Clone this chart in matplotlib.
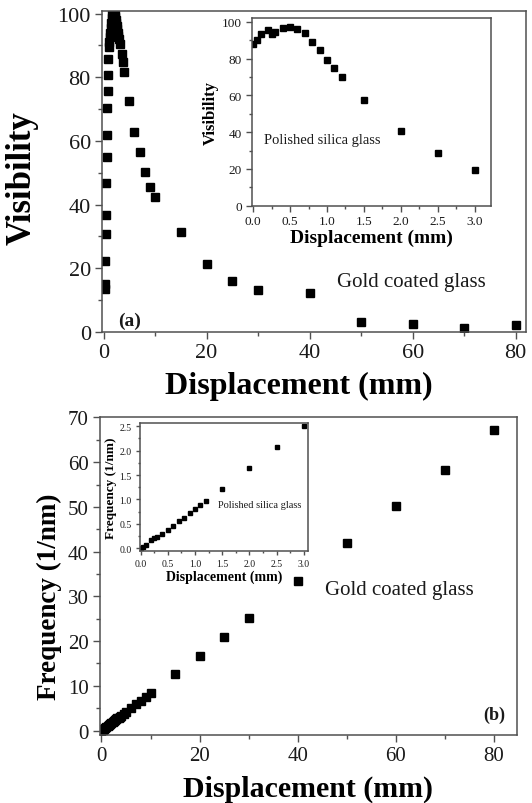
import matplotlib
matplotlib.use("Agg")
import matplotlib.pyplot as plt
from matplotlib.ticker import MultipleLocator, FormatStrFormatter

# (a) gold coated glass, visibility vs displacement
gold_disp = [0.2, 0.25, 0.3, 0.4, 0.45, 0.5, 0.6, 0.7, 0.75, 0.8, 0.9, 0.95, 1.0,
             1.1, 1.2, 1.3, 1.4, 1.5, 1.6, 1.7, 1.8, 1.9, 2.0, 2.1, 2.2, 2.3, 2.4,
             2.5, 2.6, 2.7, 2.8, 2.9, 3.0, 3.2, 3.5, 3.75, 4.0,
             5, 6, 7, 8, 9, 10, 15, 20, 25, 30, 40, 50, 60, 70, 80]
gold_vis = [13.5, 15.0, 22.4, 30.8, 36.7, 46.7, 55.0, 61.9, 70.2, 75.8, 80.7, 85.7, 89.5,
            91.0, 92.5, 94.0, 95.5, 97.0, 98.5, 100.0, 101.0, 101.0, 101.0, 100.5, 100.0, 99.0, 98.0,
            97.0, 96.0, 95.0, 94.0, 93.0, 92.0, 90.4, 87.3, 84.7, 81.7,
            72.4, 62.7, 56.4, 50.1, 45.4, 42.3, 31.3, 21.3, 16.1, 13.2, 12.1, 3.0, 2.5, 1.3, 2.2]

# (a) inset, polished silica glass
silica_disp = [0.0, 0.05, 0.1, 0.2, 0.25, 0.3, 0.4, 0.5, 0.6, 0.7, 0.8, 0.9, 1.0, 1.1, 1.2,
               1.5, 2.0, 2.5, 3.0]
silica_vis = [87.9, 90.2, 93.3, 95.5, 93.3, 94.8, 96.9, 97.3, 96.4, 94.2, 89.3, 84.6, 79.3,
              75.2, 70.3, 57.4, 40.4, 28.6, 19.2]

# (b) gold coated glass, frequency vs displacement
gold_f_disp = [0.0, 0.25, 0.5, 0.75, 1.0, 1.25, 1.5, 1.75, 2.0, 2.25, 2.5, 2.75, 3.0, 3.25,
               3.5, 3.75, 4.0, 4.5, 5, 6, 7, 8, 9, 10, 15, 20, 25, 30, 40, 50, 60, 70, 80]
gold_freq = [0.0, 0.2, 0.4, 0.6, 0.8, 1.0, 1.25, 1.45, 1.65, 1.85, 2.1, 2.3, 2.5, 2.7,
             2.9, 3.1, 3.35, 3.75, 4.2, 5.0, 5.9, 6.7, 7.6, 8.4, 12.6, 16.7, 21.0, 25.1,
             33.4, 41.9, 50.3, 58.3, 67.2]

# (b) inset, polished silica glass
silica_freq = [0.0, 0.02, 0.06, 0.17, 0.2, 0.24, 0.29, 0.38, 0.46, 0.55, 0.63, 0.72, 0.8,
               0.88, 0.96, 1.21, 1.65, 2.07, 2.5]

plt.rcParams['font.family'] = ['Liberation Serif', 'DejaVu Serif']
plt.rcParams['text.color'] = '#1a1a1a'
spine_col = '#505050'


def style(ax, size, ticklen=5):
    for s in ax.spines.values():
        s.set_color(spine_col)
        s.set_linewidth(1.1)
    ax.tick_params(which='both', direction='out', top=False, right=False,
                   color=spine_col, labelcolor='#1a1a1a', width=1)
    ax.tick_params(which='major', length=ticklen, labelsize=size, pad=3)
    ax.tick_params(which='minor', length=ticklen * 0.6)


fig = plt.figure(figsize=(5.32, 8.04), dpi=100)

# ---- panel (a)
ax1 = fig.add_axes([0.1917, 0.5858, 0.797, 0.3993])
ax1.plot(gold_disp, gold_vis, 's', color='black', markersize=6.3)
ax1.set_xlim(-0.3, 82)
ax1.set_ylim(0, 100.8)
ax1.xaxis.set_major_locator(MultipleLocator(20))
ax1.xaxis.set_minor_locator(MultipleLocator(10))
ax1.yaxis.set_major_locator(MultipleLocator(20))
ax1.yaxis.set_minor_locator(MultipleLocator(10))
style(ax1, 16)
ax1.set_xlabel("Displacement (mm)", fontsize=23, fontweight='bold')
ax1.set_ylabel("Visibility", fontsize=25, fontweight='bold')
ax1.xaxis.set_label_coords(0.4634, -0.12)
ax1.yaxis.set_label_coords(-0.15, 0.483)
ax1.text(0.729, 0.156, "Gold coated glass", transform=ax1.transAxes,
         fontsize=15, ha='center', va='center')
ax1.text(0.064, 0.037, "(a)", transform=ax1.transAxes,
         fontsize=14, fontweight='bold', ha='center', va='center')

ins1 = fig.add_axes([0.4731, 0.7429, 0.4498, 0.2331])
ins1.plot(silica_disp, silica_vis, 's', color='black', markersize=3.8)
ins1.set_xlim(-0.02, 3.22)
ins1.set_ylim(0, 102)
ins1.xaxis.set_major_locator(MultipleLocator(0.5))
ins1.xaxis.set_minor_locator(MultipleLocator(0.25))
ins1.yaxis.set_major_locator(MultipleLocator(20))
ins1.yaxis.set_minor_locator(MultipleLocator(10))
style(ins1, 9.5, ticklen=4)
ins1.xaxis.set_major_formatter(FormatStrFormatter('%.1f'))
ins1.set_xlabel("Displacement (mm)", fontsize=14, fontweight='bold', labelpad=1)
ins1.set_ylabel("Visibility", fontsize=12, fontweight='bold', labelpad=2)
ins1.text(0.295, 0.351, "Polished silica glass", transform=ins1.transAxes,
          fontsize=10.5, ha='center', va='center')

# ---- panel (b)
ax2 = fig.add_axes([0.188, 0.0846, 0.7838, 0.3955])
ax2.plot(gold_f_disp, gold_freq, 's', color='black', markersize=5.5)
ax2.set_xlim(-0.3, 84.7)
ax2.set_ylim(-1, 70.1)
ax2.xaxis.set_major_locator(MultipleLocator(20))
ax2.xaxis.set_minor_locator(MultipleLocator(10))
ax2.yaxis.set_major_locator(MultipleLocator(10))
ax2.yaxis.set_minor_locator(MultipleLocator(5))
style(ax2, 15)
ax2.set_xlabel("Displacement (mm)", fontsize=21.5, fontweight='bold')
ax2.set_ylabel("Frequency (1/nm)", fontsize=19.5, fontweight='bold')
ax2.xaxis.set_label_coords(0.499, -0.124)
ax2.yaxis.set_label_coords(-0.09, 0.437)
ax2.text(0.719, 0.459, "Gold coated glass", transform=ax2.transAxes,
         fontsize=15, ha='center', va='center')
ax2.text(0.945, 0.066, "(b)", transform=ax2.transAxes,
         fontsize=13, fontweight='bold', ha='center', va='center')

ins2 = fig.add_axes([0.2632, 0.3138, 0.3163, 0.1585])
ins2.plot(silica_disp, silica_freq, 's', color='black', markersize=3.1)
ins2.set_xlim(-0.01, 3.08)
ins2.set_ylim(-0.05, 2.56)
ins2.xaxis.set_major_locator(MultipleLocator(0.5))
ins2.xaxis.set_minor_locator(MultipleLocator(0.25))
ins2.yaxis.set_major_locator(MultipleLocator(0.5))
ins2.yaxis.set_minor_locator(MultipleLocator(0.25))
style(ins2, 7, ticklen=3)
ins2.xaxis.set_major_formatter(FormatStrFormatter('%.1f'))
ins2.yaxis.set_major_formatter(FormatStrFormatter('%.1f'))
ins2.set_xlabel("Displacement (mm)", fontsize=10, fontweight='bold', labelpad=1)
ins2.set_ylabel("Frequency (1/nm)", fontsize=9.5, fontweight='bold', labelpad=2)
ins2.text(0.713, 0.359, "Polished silica glass", transform=ins2.transAxes,
          fontsize=7.5, ha='center', va='center')

plt.savefig("out.png", dpi=100)
plt.close()
